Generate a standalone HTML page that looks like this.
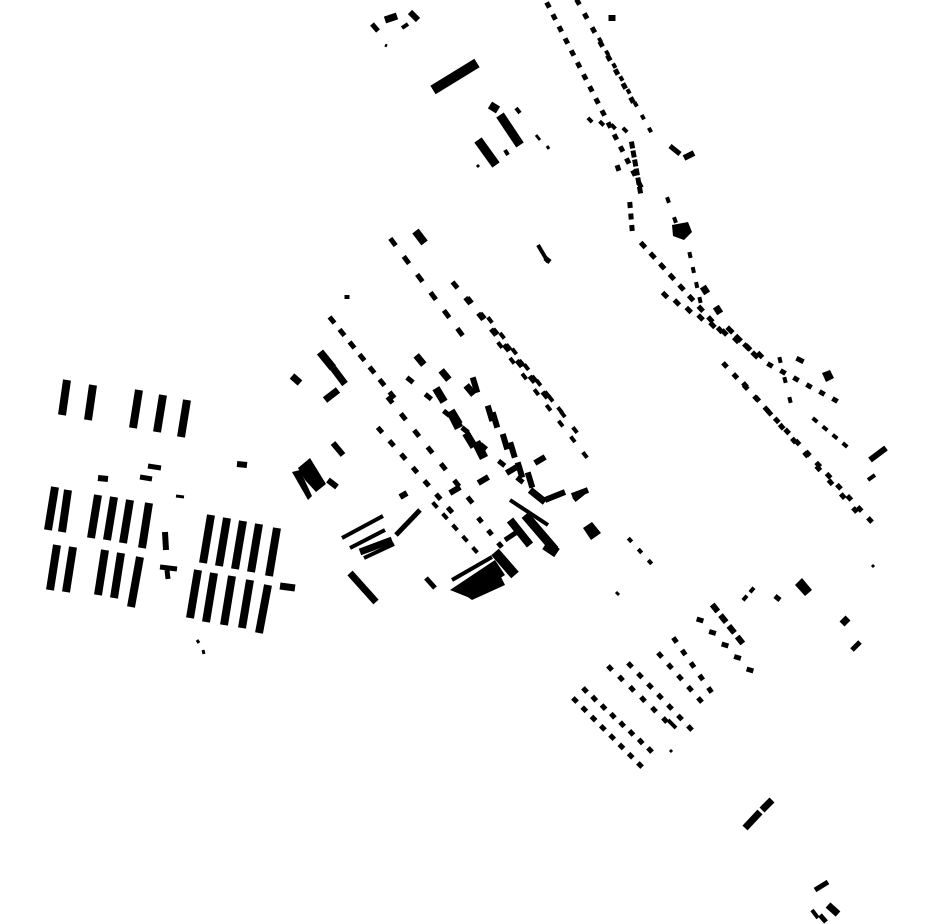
<!DOCTYPE html>
<html><head><meta charset="utf-8"><style>
html,body{margin:0;padding:0;background:#fff;width:930px;height:924px;overflow:hidden}
svg{display:block}
</style></head><body>
<svg id="s" width="930" height="924" viewBox="0 0 930 924" xmlns="http://www.w3.org/2000/svg"></svg>
<script>
var s=document.getElementById('s'),out='';
function L(a,b,c,d,w){out+='<line x1="'+a+'" y1="'+b+'" x2="'+c+'" y2="'+d+'" stroke="#000" stroke-width="'+(w||5)+'"/>';}
function P(p){out+='<polygon points="'+p+'" fill="#000"/>';}
function R(x1,y1,x2,y2,n,len,w,dx,dy){
  if(dx===undefined){dx=x2-x1;dy=y2-y1;}
  var m=Math.sqrt(dx*dx+dy*dy);dx/=m;dy/=m;
  for(var i=0;i<n;i++){var t=n==1?0:i/(n-1);var x=x1+(x2-x1)*t,y=y1+(y2-y1)*t;
   L(x-dx*len/2,y-dy*len/2,x+dx*len/2,y+dy*len/2,w);}
}
[[67,380,62,415],[93,385,88,420],[139,390,133,428],[163,395,157,432],[187,400,181,437],
[55,487,48,530],[68,490,62,532],[98,495,91,538],[114,497,107,540],[130,500,123,543],[149,503,142,548],
[211,515,203,563],[227,518,219,566],[243,521,235,569],[259,524,251,572],[277,528,269,576],
[57,545,50,590],[73,547,66,592],[105,550,98,595],[121,553,114,598],[140,557,131,607],
[198,570,190,618],[214,573,206,622],[232,576,224,625],[250,580,242,628],[268,585,259,633]].forEach(function(b){L(b[0],b[1],b[2],b[3],8)});
L(98,478,108,479,6);L(140,477,152,479,5);L(148,466,161,468,5);L(237,464,247,465,6);L(165,532,166,550,6);
L(160,567,177,569,5);L(167,570,168,579,5);L(280,586,295,588,7);L(176,496,184,497,3);L(197,640,199,643,3);L(203,650,204,654,3);
L(372,24,378,31,5);L(385,20,397,16,7);L(402,28,408,24,4);L(410,12,418,20,6);L(385,45,387,46,3);
L(433,90,477,63,10);L(478,140,496,165,9);L(500,115,520,145,9);L(490,105,498,110,8);L(505,150,508,155,4);L(516,108,520,113,4);L(536,135,540,140,3);L(547,146,549,149,3);L(477,165,479,167,3);
L(538,245,548,262,4);L(545,258,550,262,5);
// right curved band
R(548,5,640,185,16,6,5);R(578,2,632,100,8,6,5);R(612,18,612,24,1,6,7);R(600,40,650,130,8,5,4);
R(590,120,625,130,4,6,4,1,1);R(632,145,640,190,6,7,5);R(618,168,620,174,1,6,5);
R(630,205,632,228,3,6,5);R(668,200,675,220,2,6,4);
P('672,225 688,222 692,232 684,240 673,236');
R(643,245,720,330,9,7,5);R(665,295,760,355,9,7,5,1,1);R(690,255,700,300,4,6,4);
R(705,290,718,310,2,8,7);R(730,330,755,355,4,8,5);
R(725,365,870,520,15,6,5);R(745,385,855,510,10,6,5);R(770,365,835,400,6,6,5,1,0.6);R(800,360,810,365,1,8,5);
P('822,373 830,370 834,378 826,382');R(780,360,790,400,3,6,4);
R(815,420,845,445,4,6,4);L(870,460,886,448,6);L(868,480,875,475,4);L(872,565,874,567,3);
L(670,146,680,154,5);L(684,158,694,153,6);
// central cluster
R(393,242,460,332,6,9,5);R(420,237,430,250,1,15,8);
R(332,320,392,395,7,8,5);R(347,297,349,297,1,5,4);
R(455,285,545,395,8,8,5);R(470,300,560,410,8,7,4);R(490,320,575,430,8,7,4);R(500,345,585,455,8,7,4);
R(390,400,470,500,7,8,5);R(380,430,450,510,7,7,5);R(410,380,520,480,7,8,5,1,0.8);
R(420,360,470,390,3,12,7,1,1.2);R(440,395,470,440,3,16,8,0.6,1);R(455,420,480,450,2,18,9,0.5,1);
R(475,385,520,470,4,16,6,0.3,1);R(495,420,530,480,3,16,6,0.3,1);
L(320,352,333,368,8);L(333,368,345,384,7);L(325,400,338,390,7);L(292,376,300,383,7);L(333,443,343,455,6);L(328,480,337,487,6);
P('298,468 310,458 326,484 316,492 305,480');P('292,472 300,470 312,496 308,500');
R(455,490,540,460,4,12,6,1,-0.6);L(510,500,548,525,4);L(530,490,545,502,7);L(545,500,565,492,6);L(572,496,588,490,6);L(574,500,584,492,5);
L(510,520,530,545,8);L(525,515,555,550,9);L(545,545,557,553,10);
L(342,538,383,516,4);L(350,548,385,530,4);L(360,552,392,540,7);L(364,558,394,544,4);L(396,535,420,510,5);L(400,497,407,493,6);
L(350,573,376,602,7);L(426,578,435,588,5);
P('450,590 495,560 505,575 470,598');P('465,595 500,575 505,585 472,600');L(452,580,492,557,4);
R(435,505,475,550,5,7,4);R(480,520,500,545,3,6,5);L(495,552,515,575,10);L(505,540,520,530,5);
P('583,528 592,522 601,533 591,540');
R(630,540,650,562,3,5,4);L(616,592,619,595,3);
// bottom-right cluster
R(575,700,640,765,8,6,5);R(585,690,650,750,8,6,5,1,1.1);R(610,668,665,720,6,6,5,1,1.1);
R(630,665,690,728,7,6,5);R(660,655,700,700,5,6,5);R(675,640,710,690,5,6,5);
R(700,620,750,670,5,7,5,1,0.3);R(715,608,740,640,4,9,6,0.8,1);R(745,598,752,590,2,6,4);
L(775,596,780,600,5);P('795,585 802,578 812,590 805,596');L(842,624,848,618,7);L(852,650,860,642,5);
L(745,828,760,812,7);L(762,810,772,800,7);
L(815,890,828,882,5);L(812,910,818,918,4);L(820,915,826,922,5);L(828,905,838,914,7);
L(670,750,672,752,3);L(668,720,676,728,4);
s.innerHTML=out;
</script>
</body></html>
